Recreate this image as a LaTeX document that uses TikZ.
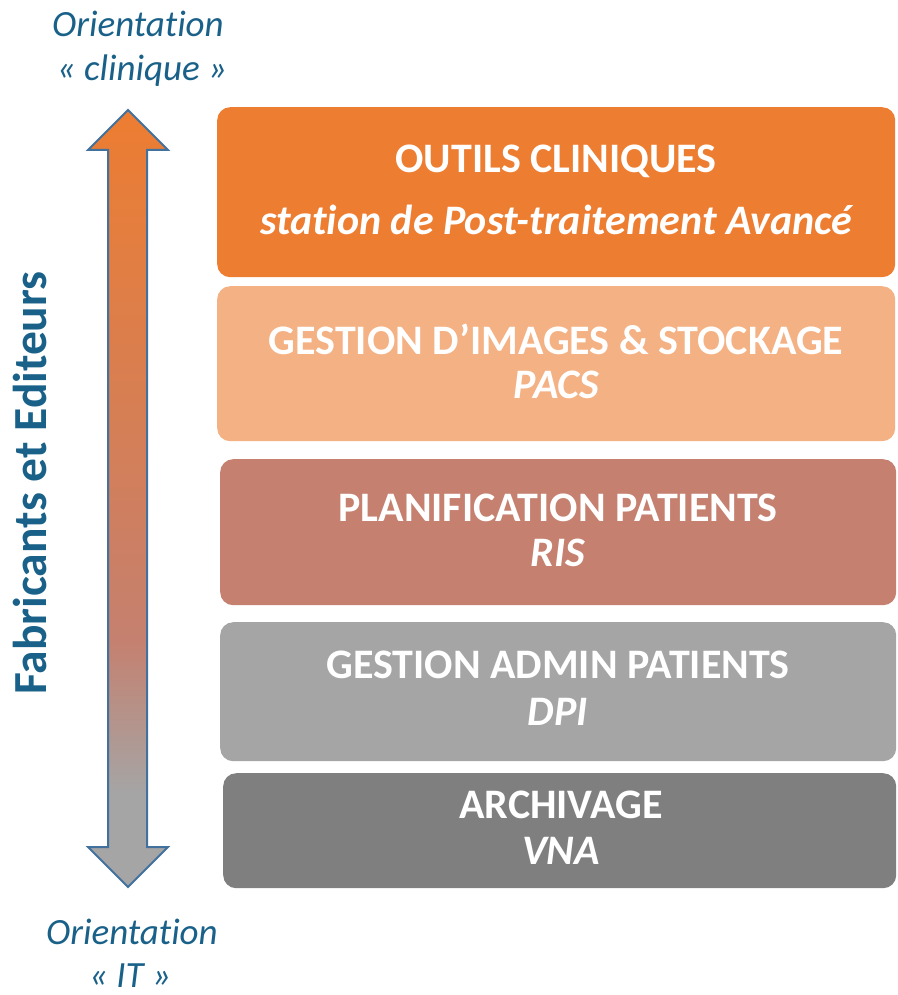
\documentclass[tikz,border=0pt]{standalone}
\usepackage{fontspec}
\setmainfont{Carlito}[Ligatures=NoCommon]
\definecolor{cOrange}{HTML}{ED7D31}
\definecolor{cPeach}{HTML}{F4B183}
\definecolor{cRose}{HTML}{C5806F}
\definecolor{cGrayL}{HTML}{A5A5A5}
\definecolor{cGrayD}{HTML}{7F7F7F}
\definecolor{cBlue}{HTML}{1A6189}
\definecolor{cEdge}{HTML}{41719C}
\pgfdeclareverticalshading{arrowshade}{100bp}{color(0bp)=(cGrayL); color(31bp)=(cGrayL); color(41bp)=(cRose); color(75bp)=(cOrange); color(100bp)=(cOrange)}
\tikzset{
  layer/.style={rounded corners=13pt, anchor=north west, inner sep=0pt},
  title/.style={anchor=base, text=white, font=\fontsize{42}{46}\selectfont\bfseries, inner sep=0pt},
  sub/.style={anchor=base, text=white, font=\fontsize{42}{46}\selectfont\bfseries\itshape, inner sep=0pt},
  orient/.style={anchor=base, text=cBlue, font=\fontsize{37}{40}\selectfont\itshape, inner sep=0pt},
}
\begin{document}
\begin{tikzpicture}[x=1pt,y=-1pt]
\useasboundingbox (0,0) rectangle (897,995);
% layers
\node[layer, fill=cOrange, minimum width=678pt, minimum height=170pt] (b1) at (217,107) {};
\node[layer, fill=cPeach, minimum width=678pt, minimum height=155pt] (b2) at (217,286) {};
\node[layer, fill=cRose, minimum width=676pt, minimum height=146pt] (b3) at (220,459) {};
\node[layer, fill=cGrayL, minimum width=676pt, minimum height=139pt] (b4) at (220,622) {};
\node[layer, fill=cGrayD, minimum width=673pt, minimum height=115pt] (b5) at (223,773) {};
% texts
\node[title] (t1) at (556,172) {OUTILS CLINIQUES};
\node[sub] (s1) at (556,234) {station de Post-traitement Avancé};
\node[title] (t2) at (556,354) {GESTION D’IMAGES \& STOCKAGE};
\node[sub] (s2) at (556,398) {PACS};
\node[title] (t3) at (558,521) {PLANIFICATION PATIENTS};
\node[sub] (s3) at (558,566) {RIS};
\node[title] (t4) at (558,678) {GESTION ADMIN PATIENTS};
\node[sub] (s4) at (558,725) {DPI};
\node[title] (t5) at (561,818) {ARCHIVAGE};
\node[sub] (s5) at (561,864) {VNA};
% arrow
\shade[shading=arrowshade] (128,110) -- (168,150) -- (147,150) -- (147,847) -- (168,847) -- (128,887) -- (88,847) -- (108,847) -- (108,150) -- (88,150) -- cycle;
\draw[cEdge, line width=2pt, line join=miter] (128,110) -- (168,150) -- (147,150) -- (147,847) -- (168,847) -- (128,887) -- (88,847) -- (108,847) -- (108,150) -- (88,150) -- cycle;
% orientation labels
\node[orient] (o1) at (138,37) {Orientation};
\node[orient] (o2) at (142,81) {« clinique »};
\node[orient] (o3) at (132,944) {Orientation};
\node[orient] (o4) at (130,987) {« IT »};
\node[anchor=base, rotate=90, text=cBlue, font=\fontsize{47.5}{50}\selectfont\bfseries, inner sep=0pt] (fe) at (46,483) {Fabricants et Editeurs};
\end{tikzpicture}
\end{document}
